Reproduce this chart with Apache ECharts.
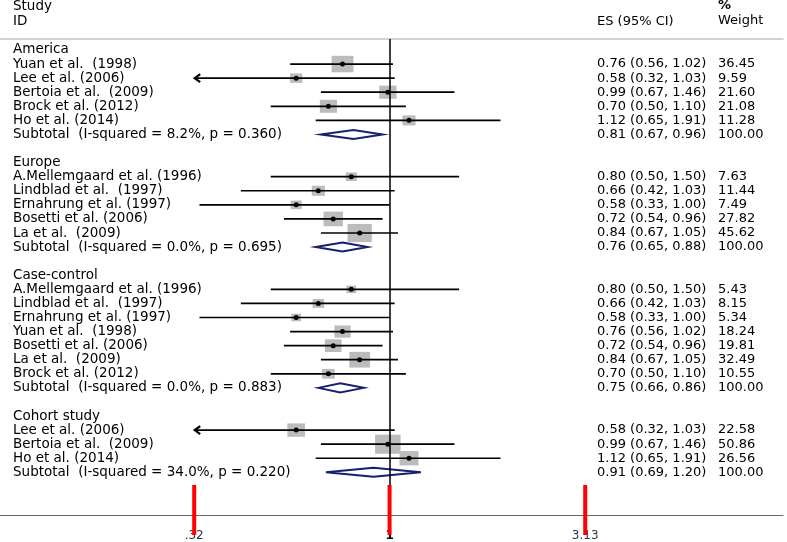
<!DOCTYPE html>
<html>
<head>
<meta charset="utf-8">
<script src="https://cdn.jsdelivr.net/npm/echarts@6/dist/echarts.min.js"></script>
<style>html,body{margin:0;padding:0;background:#fff}#c{width:787px;height:542px}</style>
</head>
<body>
<div id="c"></div>
<script>
// ---- data ----
const rowLabels = [
  'America', 'Yuan et al.  (1998)', 'Lee et al. (2006)', 'Bertoia et al.  (2009)', 'Brock et al. (2012)', 'Ho et al. (2014)',
  'Subtotal  (I-squared = 8.2%, p = 0.360)', '',
  'Europe', 'A.Mellemgaard et al. (1996)', 'Lindblad et al.  (1997)', 'Ernahrung et al. (1997)', 'Bosetti et al. (2006)', 'La et al.  (2009)',
  'Subtotal  (I-squared = 0.0%, p = 0.695)', '',
  'Case-control', 'A.Mellemgaard et al. (1996)', 'Lindblad et al.  (1997)', 'Ernahrung et al. (1997)', 'Yuan et al.  (1998)',
  'Bosetti et al. (2006)', 'La et al.  (2009)', 'Brock et al. (2012)', 'Subtotal  (I-squared = 0.0%, p = 0.883)', '',
  'Cohort study', 'Lee et al. (2006)', 'Bertoia et al.  (2009)', 'Ho et al. (2014)', 'Subtotal  (I-squared = 34.0%, p = 0.220)'
];
const rowTypes = [
  'group','study','study','study','study','study','sub','blank',
  'group','study','study','study','study','study','sub','blank',
  'group','study','study','study','study','study','study','study','sub','blank',
  'group','study','study','study','sub'
];
const es = [null,0.76,0.58,0.99,0.70,1.12,0.81,null, null,0.80,0.66,0.58,0.72,0.84,0.76,null, null,0.80,0.66,0.58,0.76,0.72,0.84,0.70,0.75,null, null,0.58,0.99,1.12,0.91];
const lo = [null,0.56,0.32,0.67,0.50,0.65,0.67,null, null,0.50,0.42,0.33,0.54,0.67,0.65,null, null,0.50,0.42,0.33,0.56,0.54,0.67,0.50,0.66,null, null,0.32,0.67,0.65,0.69];
const hi = [null,1.02,1.03,1.46,1.10,1.91,0.96,null, null,1.50,1.03,1.00,0.96,1.05,0.88,null, null,1.50,1.03,1.00,1.02,0.96,1.05,1.10,0.86,null, null,1.03,1.46,1.91,1.20];
const weight = [null,36.45,9.59,21.60,21.08,11.28,100,null, null,7.63,11.44,7.49,27.82,45.62,100,null, null,5.43,8.15,5.34,18.24,19.81,32.49,10.55,100,null, null,22.58,50.86,26.56,100];
const tickValues = [0.32, 1, 3.13];
const tickLabels = ['.32', '1', '3.13'];
const nullValue = 1;

// ---- build ----
const FONT = 'DejaVu Sans';
const rowIdx = rowLabels.map((_, i) => i);
const valueRows = rowIdx.filter(i => es[i] != null);
const markData = valueRows.map(i => [es[i], i, lo[i], hi[i], weight[i], rowTypes[i] === 'sub' ? 1 : 0]);
const fmt = v => v.toFixed(2);
const esText = i => fmt(es[i]) + ' (' + fmt(lo[i]) + ', ' + fmt(hi[i]) + ')';
const X_MIN = 0.1031, X_MAX = 9.92;
const Y_MIN = -0.78, Y_MAX = 33.03;

function renderItem(params, api) {
  const x = api.value(0), y = api.value(1), l = api.value(2), h = api.value(3), w = api.value(4), isSub = api.value(5);
  const c = api.coord([x, y]);
  const cl = api.coord([l, y]);
  const ch = api.coord([h, y]);
  const children = [];
  if (isSub) {
    const hh = 4.5;
    children.push({
      type: 'polygon',
      shape: { points: [[cl[0], c[1]], [c[0], c[1] - hh], [ch[0], c[1]], [c[0], c[1] + hh]] },
      style: { fill: '#fff', stroke: '#15206e', lineWidth: 2 }
    });
  } else {
    const s = Math.sqrt(w);
    const bw = 3.3 * s + 2, bh = 2.4 * s + 2;
    children.push({ type: 'rect', shape: { x: c[0] - bw / 2, y: c[1] - bh / 2, width: bw, height: bh }, style: { fill: '#bcbcbc' } });
    children.push({ type: 'line', shape: { x1: cl[0], y1: c[1], x2: ch[0], y2: c[1] }, style: { stroke: '#000', lineWidth: 1.7 } });
    if (l <= tickValues[0]) {
      children.push({ type: 'polyline', shape: { points: [[cl[0] + 6, c[1] - 4], [cl[0] + 0.5, c[1]], [cl[0] + 6, c[1] + 4]] }, style: { stroke: '#000', lineWidth: 2.2, fill: null } });
    }
    children.push({ type: 'circle', shape: { cx: c[0], cy: c[1], r: 2.5 }, style: { fill: '#000' } });
  }
  return { type: 'group', children };
}

const yBase = {
  type: 'value', inverse: true, min: Y_MIN, max: Y_MAX,
  axisLine: { show: false }, axisTick: { show: false }, splitLine: { show: false }
};
const labelBase = { inside: true, align: 'left', fontFamily: FONT, color: '#000', hideOverlap: false, showMinLabel: true, showMaxLabel: true };
const xBase = { type: 'log', min: X_MIN, max: X_MAX, splitLine: { show: false } };

const headerGraphics = [
  { type: 'text', x: 13, y: 6, style: { text: 'Study', fontFamily: FONT, fontSize: 13.5, fill: '#000', verticalAlign: 'middle' } },
  { type: 'text', x: 13, y: 21, style: { text: 'ID', fontFamily: FONT, fontSize: 13.5, fill: '#000', verticalAlign: 'middle' } },
  { type: 'text', x: 597, y: 22, style: { text: 'ES (95% CI)', fontFamily: FONT, fontSize: 13, fill: '#000', verticalAlign: 'middle' } },
  { type: 'text', x: 718, y: 6, style: { text: '%', fontFamily: FONT, fontSize: 13, fontWeight: 'bold', fill: '#000', verticalAlign: 'middle' } },
  { type: 'text', x: 718, y: 21, style: { text: 'Weight', fontFamily: FONT, fontSize: 13, fill: '#000', verticalAlign: 'middle' } }
];

const chart = echarts.init(document.getElementById('c'));
chart.setOption({
  animation: false,
  backgroundColor: '#fff',
  grid: { left: 0, right: 4, top: 39, bottom: 27, containLabel: false, outerBoundsMode: 'none' },
  xAxis: [
    Object.assign({}, xBase, {
      position: 'bottom',
      axisLine: { show: true, onZero: false, lineStyle: { color: '#666', width: 1 } },
      axisTick: { show: false },
      axisLabel: {
        show: true, customValues: tickValues, margin: 15, fontFamily: FONT, fontSize: 12, color: '#334',
        formatter: v => {
          let k = 0;
          tickValues.forEach((t, j) => { if (Math.abs(t - v) < Math.abs(tickValues[k] - v)) k = j; });
          return tickValues[k] === nullValue ? '{b|' + tickLabels[k] + '}' : tickLabels[k];
        },
        rich: { b: { fontFamily: FONT, fontSize: 12, fontWeight: 'bold', color: '#000' } }
      }
    }),
    Object.assign({}, xBase, {
      position: 'top',
      axisLine: { show: true, onZero: false, lineStyle: { color: '#c4c4c4', width: 1.5 } },
      axisTick: { show: false },
      axisLabel: { show: false }
    })
  ],
  yAxis: [
    Object.assign({}, yBase, {
      position: 'left',
      axisLabel: Object.assign({}, labelBase, { customValues: rowIdx, margin: 13, fontSize: 13.5, formatter: v => rowLabels[Math.round(v)] || '' })
    }),
    Object.assign({}, yBase, {
      position: 'right',
      axisLabel: Object.assign({}, labelBase, { customValues: valueRows, margin: 186, fontSize: 13, formatter: v => esText(Math.round(v)) })
    }),
    Object.assign({}, yBase, {
      position: 'right',
      axisLabel: Object.assign({}, labelBase, { customValues: valueRows, margin: 65, fontSize: 13, formatter: v => fmt(weight[Math.round(v)]) })
    })
  ],
  graphic: headerGraphics,
  series: [{
    type: 'custom',
    xAxisIndex: 0,
    yAxisIndex: 0,
    renderItem: renderItem,
    data: markData,
    encode: { x: [0, 2, 3], y: 1 },
    clip: false,
    silent: true,
    z: 3,
    markLine: {
      silent: true, symbol: 'none', animation: false,
      label: { show: false },
      lineStyle: { color: '#000', width: 1.5, type: 'solid' },
      data: [{ xAxis: nullValue }]
    }
  }]
});

// tick marks below the x axis, positioned through the chart's own scales
const tickGraphics = tickValues.map(v => {
  const p = chart.convertToPixel({ xAxisIndex: 0, yAxisIndex: 0 }, [v, Y_MAX]);
  const isNull = v === nullValue;
  return {
    type: 'line', z: 100, silent: true,
    shape: { x1: p[0], y1: p[1] - 30, x2: p[0], y2: p[1] + 20 },
    style: { stroke: '#ff0000', lineWidth: 4 }
  };
});
chart.setOption({ graphic: headerGraphics.concat(tickGraphics) });
</script>
</body>
</html>
